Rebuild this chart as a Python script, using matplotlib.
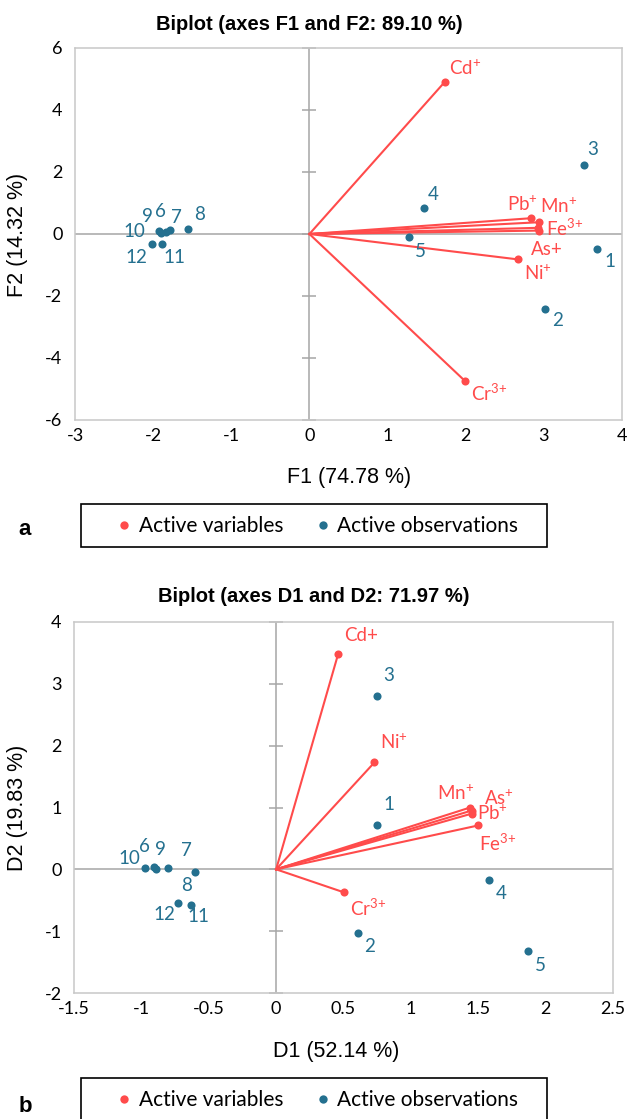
import numpy as np
import matplotlib.pyplot as plt
from matplotlib.patches import Rectangle
from matplotlib.lines import Line2D

plt.rcParams['font.family'] = ['Lato', 'DejaVu Sans']
plt.rcParams['axes.unicode_minus'] = False
plt.rcParams['mathtext.fontset'] = 'custom'
plt.rcParams['mathtext.rm'] = 'Lato'
plt.rcParams['mathtext.it'] = 'Lato'
plt.rcParams['mathtext.default'] = 'regular'

RED = '#ff4b4b'
BLUE = '#24708f'

# ---------------- panel a : F1 / F2 ----------------
var_a = ['Cd$^{+}$', 'Pb$^{+}$', 'Mn$^{+}$', 'As+', r'Fe$^{3\!+}$', 'Ni$^{+}$', r'Cr$^{3\!+}$']
var_a_x = [1.73, 2.84, 2.94, 2.93, 2.94, 2.67, 1.99]
var_a_y = [4.90, 0.51, 0.38, 0.20, 0.11, -0.82, -4.74]

obs_a = ['1', '2', '3', '4', '5', '6', '7', '8', '9', '10', '11', '12']
obs_a_x = [3.68, 3.02, 3.51, 1.46, 1.27, -1.84, -1.79, -1.56, -1.90, -1.93, -1.89, -2.02]
obs_a_y = [-0.48, -2.42, 2.23, 0.84, -0.10, 0.08, 0.14, 0.17, 0.02, 0.11, -0.32, -0.32]

# ---------------- panel b : D1 / D2 ----------------
var_b = ['Cd+', 'Ni$^{+}$', 'Mn$^{+}$', 'As$^{+}$', 'Pb$^{+}$', r'Fe$^{3\!+}$', r'Cr$^{3\!+}$']
var_b_x = [0.46, 0.73, 1.44, 1.45, 1.45, 1.50, 0.50]
var_b_y = [3.48, 1.73, 1.00, 0.95, 0.90, 0.71, -0.37]

obs_b = ['1', '2', '3', '4', '5', '6', '7', '8', '9', '10', '11', '12']
obs_b_x = [0.75, 0.61, 0.75, 1.58, 1.87, -0.91, -0.80, -0.60, -0.89, -0.97, -0.63, -0.73]
obs_b_y = [0.71, -1.03, 2.81, -0.18, -1.32, 0.03, 0.02, -0.05, 0.01, 0.02, -0.57, -0.54]

# label placement (offset in pixels, ha, va)
lab_var_a = [(4, 4, 'left', 'bottom'), (7, 4, 'right', 'bottom'), (1, 6, 'left', 'bottom'),
             (8, -13, 'center', 'top'), (7, 2, 'left', 'center'), (6, -4, 'left', 'top'),
             (6, -2, 'left', 'top')]
lab_obs_a = [(7, -4, 'left', 'top'), (7, -3, 'left', 'top'), (4, 7, 'left', 'bottom'),
             (4, 5, 'left', 'bottom'), (6, -6, 'left', 'top'), (-5, 12, 'center', 'bottom'),
             (1, 4, 'left', 'bottom'), (7, 6, 'left', 'bottom'), (-8, 8, 'right', 'bottom'),
             (-13, -1, 'right', 'center'), (2, -5, 'left', 'top'), (-4, -5, 'right', 'top')]
lab_var_b = [(6, 10, 'left', 'bottom'), (6, 10, 'left', 'bottom'), (4, 5, 'right', 'bottom'),
             (12, 3, 'left', 'bottom'), (5, 0, 'left', 'center'), (1, -7, 'left', 'top'),
             (7, -5, 'left', 'top')]
lab_obs_b = [(6, 12, 'left', 'bottom'), (6, -5, 'left', 'top'), (6, 12, 'left', 'bottom'),
             (7, -5, 'left', 'top'), (7, -6, 'left', 'top'), (-9, 12, 'center', 'bottom'),
             (13, 9, 'left', 'bottom'), (-3, -5, 'right', 'top'), (-1, 11, 'left', 'bottom'),
             (-5, 1, 'right', 'bottom'), (-4, -3, 'left', 'top'), (-2, -3, 'right', 'top')]


def biplot(ax, vx, vy, vlab, vpos, ox, oy, olab, opos, xlim, ylim, xt, yt, xtl):
    ax.set_xlim(xlim)
    ax.set_ylim(ylim)
    ax.axhline(0, color='#a6a6a6', lw=1.1, zorder=1)
    ax.axvline(0, color='#a6a6a6', lw=1.1, zorder=1)
    # little tick marks on the vertical zero line (excel style)
    ax.plot(np.zeros(len(yt)), yt, ls='none', marker='_', ms=10, mew=1.1,
            color='#a6a6a6', zorder=1, clip_on=False)
    for x, y in zip(vx, vy):
        ax.plot([0, x], [0, y], color=RED, lw=1.5, zorder=2)
    ax.scatter(vx, vy, s=34, color=RED, zorder=3, linewidths=0)
    ax.scatter(ox, oy, s=34, color=BLUE, zorder=3, linewidths=0)
    for x, y, t, (dx, dy, ha, va) in zip(vx, vy, vlab, vpos):
        ax.annotate(t, (x, y), xytext=(dx, dy), textcoords='offset pixels',
                    ha=ha, va=va, color=RED, fontsize=13.5)
    for x, y, t, (dx, dy, ha, va) in zip(ox, oy, olab, opos):
        ax.annotate(t, (x, y), xytext=(dx, dy), textcoords='offset pixels',
                    ha=ha, va=va, color=BLUE, fontsize=13.5)
    ax.set_xticks(xt)
    ax.set_xticklabels(xtl)
    ax.set_yticks(yt)
    ax.tick_params(length=0, labelsize=13, pad=6)
    ax.tick_params(axis='y', pad=9)
    for s in ax.spines.values():
        s.set_color('#c8c8c8')
        s.set_linewidth(1.1)


fig = plt.figure(figsize=(6.28, 11.19), dpi=100)
W, H = 628.0, 1119.0

axa = fig.add_axes([75 / W, 1 - 420 / H, 547 / W, 372 / H])
biplot(axa, var_a_x, var_a_y, var_a, lab_var_a, obs_a_x, obs_a_y, obs_a, lab_obs_a,
       (-3, 4), (-6, 6), np.arange(-3, 5), np.arange(-6, 7, 2),
       [str(v) for v in np.arange(-3, 5)])

axb = fig.add_axes([74 / W, 1 - 993 / H, 539 / W, 371 / H])
xtb = np.arange(-1.5, 2.6, 0.5)
biplot(axb, var_b_x, var_b_y, var_b, lab_var_b, obs_b_x, obs_b_y, obs_b, lab_obs_b,
       (-1.5, 2.5), (-2, 4), xtb, np.arange(-2, 5),
       ['%g' % v for v in xtb])

lab_font = ['Liberation Sans Narrow', 'Liberation Sans', 'DejaVu Sans']
ttl_font = ['Liberation Sans Narrow', 'Liberation Sans', 'DejaVu Sans']

fig.text(309 / W, 1 - 25 / H, 'Biplot (axes F1 and F2: 89.10 %)', ha='center', va='center',
         fontsize=14.5, fontweight='bold', family=ttl_font)
fig.text(314 / W, 1 - 597 / H, 'Biplot (axes D1 and D2: 71.97 %)', ha='center', va='center',
         fontsize=14.5, fontweight='bold', family=ttl_font)

fig.text(349 / W, 1 - 477 / H, 'F1 (74.78 %)', ha='center', va='center', fontsize=15.5, family=lab_font)
fig.text(18 / W, 1 - 235 / H, 'F2 (14.32 %)', ha='center', va='center', rotation=90,
         fontsize=15.5, family=lab_font)
fig.text(336 / W, 1 - 1051 / H, 'D1 (52.14 %)', ha='center', va='center', fontsize=15.5, family=lab_font)
fig.text(18 / W, 1 - 808 / H, 'D2 (19.83 %)', ha='center', va='center', rotation=90,
         fontsize=15.5, family=lab_font)

fig.text(25 / W, 1 - 530 / H, 'a', ha='center', va='center', fontsize=16, fontweight='bold',
         family=['Liberation Sans', 'DejaVu Sans'])
fig.text(25 / W, 1 - 1106 / H, 'b', ha='center', va='center', fontsize=16, fontweight='bold',
         family=['Liberation Sans', 'DejaVu Sans'])

# legends with a plain black box
handles = [Line2D([], [], ls='none', marker='o', ms=6, mec='none', color=RED),
           Line2D([], [], ls='none', marker='o', ms=6, mec='none', color=BLUE)]
names = ['Active variables', 'Active observations']
for top, bot in [(504, 547), (1078, 1124)]:
    fig.patches.append(Rectangle((81 / W, 1 - bot / H), 466 / W, (bot - top) / H,
                                 transform=fig.transFigure, fill=False, ec='black', lw=1.2))
    fig.legend(handles, names, loc='center', bbox_to_anchor=(316 / W, 1 - (top + 22) / H),
               ncol=2, frameon=False, fontsize=15, handletextpad=0.2, columnspacing=1.4,
               handlelength=1.0)

fig.savefig('out.png', dpi=100)
